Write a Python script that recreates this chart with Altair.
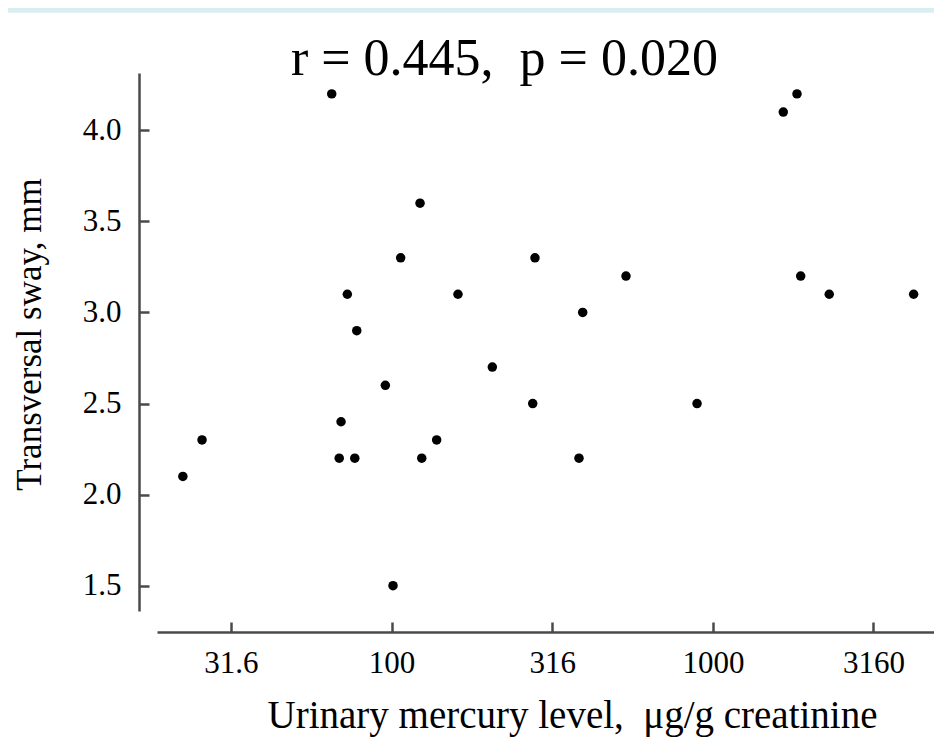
import altair as alt
import pandas as pd

# ---- data ----
mercury = [22.4, 25.7, 65.1, 68.7, 69.6, 72.8, 76.8, 77.9, 95.6, 101.0, 106.7,
           122.6, 124.1, 138.1, 160.9, 205.8, 274.9, 279.4, 383.0, 393.3, 536.4,
           892.5, 1656, 1827, 1876, 2302, 4215]
sway = [2.1, 2.3, 4.2, 2.2, 2.4, 3.1, 2.2, 2.9, 2.6, 1.5, 3.3,
        3.6, 2.2, 2.3, 3.1, 2.7, 2.5, 3.3, 2.2, 3.0, 3.2,
        2.5, 4.1, 4.2, 3.2, 3.1, 3.1]
x_ticks = [31.6, 100, 316, 1000, 3160]
y_ticks = [1.5, 2.0, 2.5, 3.0, 3.5, 4.0]
title_text = "r = 0.445,\u00a0 p = 0.020"
x_title = "Urinary mercury level,\u00a0 \u03bcg/g creatinine"
y_title = "Transversal sway, mm"

W, H = 795, 559
FONT = "Liberation Serif"
AX = "#4a4a4a"
INWARD = {"expr": "-10"}   # ticks pointing into the plot

df = pd.DataFrame({"mercury": mercury, "sway": sway})
one = pd.DataFrame({"t": [title_text]})

# axis lines are detached from each other: scale ranges leave a gap
xscale = alt.Scale(type="log", domain=[18.61, 4877], range=[18, W], nice=False)
yscale = alt.Scale(domain=[1.3611, 4.3146], range=[H - 21, 0], nice=False, zero=False)

xaxis = alt.Axis(values=x_ticks, labelExpr="'' + datum.value",
                 domainColor=AX, domainWidth=2.5,
                 ticks=True, tickSize=INWARD, tickColor=AX, tickWidth=2.5,
                 grid=False, labelFont=FONT, labelFontSize=31, labelColor="black",
                 labelPadding=26, labelFlush=False, labelOverlap=False,
                 title=x_title, titleFont=FONT, titleFontSize=39,
                 titleFontWeight="normal", titleColor="black",
                 titleX=433, titleY=95, titleAlign="center",
                 titleBaseline="alphabetic")
yaxis = alt.Axis(values=y_ticks, format=".1f",
                 domainColor=AX, domainWidth=2.5,
                 ticks=True, tickSize=INWARD, tickColor=AX, tickWidth=2.5,
                 grid=False, labelFont=FONT, labelFontSize=31, labelColor="black",
                 labelPadding=28, labelFlush=False, labelOverlap=False,
                 title=y_title, titleFont=FONT, titleFontSize=35,
                 titleFontWeight="normal", titleColor="black",
                 titleX=-99, titleY=261, titleAngle=270, titleAlign="center",
                 titleBaseline="alphabetic")

points = alt.Chart(df).mark_circle(size=90, color="black", opacity=1).encode(
    x=alt.X("mercury:Q", scale=xscale, axis=xaxis),
    y=alt.Y("sway:Q", scale=yscale, axis=yaxis),
)

title = alt.Chart(one).mark_text(font=FONT, fontSize=52, color="black",
                                 align="center", baseline="alphabetic").encode(
    text="t:N", x=alt.value(365.4), y=alt.value(2))

band = alt.Chart(one).mark_rect(color="#DAEEF1").encode(
    x=alt.value(-131), x2=alt.value(W), y=alt.value(-65), y2=alt.value(-60.3))

chart = alt.layer(points, title, band).properties(
    width=W, height=H,
    padding={"left": 131, "top": 65, "right": 0, "bottom": 110},
    autosize="none",
    background="white",
).configure_view(stroke=None)

chart.save("out.html", embed_options={"renderer": "svg", "actions": False})
